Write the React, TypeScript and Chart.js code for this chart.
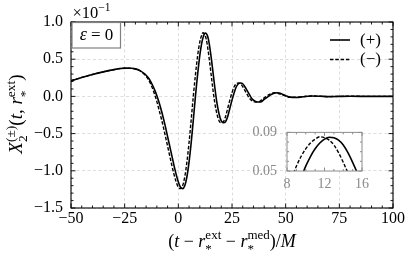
import React, { useEffect, useRef } from "react";
import { Chart, registerables } from "chart.js";

Chart.register(...registerables);

const FONT = '"Liberation Serif", "DejaVu Serif", serif';

// time axis (t - r_ext - r_med)/M
const timeAxis = [
  -50, -45, -40, -35, -30, -27, -24, -22, -20, -18, -16, -15, -14, -13, -12,
  -11, -10, -9, -8, -7, -6, -5, -4, -3, -2, -1, 0, 1, 2, 3, 4, 5, 6, 7, 8,
  8.5, 9, 9.5, 10, 10.5, 11, 11.5, 12, 12.5, 13, 13.5, 14, 14.5, 15, 15.5,
  16, 17, 18, 19, 20, 21, 22, 23, 24, 25, 26, 27, 28, 29, 30, 31, 32, 33, 34, 35, 36, 37, 38, 39, 40, 41, 42, 43, 44, 45, 46, 47, 48,
  50, 52, 55, 58, 62, 66, 70, 75, 80, 90, 100,
];

// X_2^(+) in units of 1e-1
const plusMode = [
  0.21, 0.255, 0.295, 0.33, 0.36, 0.375, 0.38, 0.378, 0.37, 0.35, 0.31, 0.285, 0.25, 0.205, 0.15,
  0.085, 0.01, -0.08, -0.18, -0.29, -0.41, -0.54, -0.67, -0.8, -0.93, -1.05, -1.15, -1.22, -1.24, -1.2, -1.08, -0.88, -0.62, -0.31, 0.01,
  0.16, 0.3, 0.43, 0.55, 0.65, 0.73, 0.79, 0.83, 0.85, 0.845, 0.82, 0.77, 0.69, 0.59, 0.48,
  0.36, 0.12, -0.09, -0.24, -0.33, -0.355, -0.34, -0.27, -0.16, -0.05, 0.05, 0.13, 0.17, 0.18, 0.17, 0.13, 0.08, 0.03, -0.02, -0.05, -0.07, -0.075, -0.075, -0.065, -0.04, -0.02, 0.0, 0.02, 0.035, 0.045, 0.05, 0.045, 0.035,
  0.01, -0.01, -0.015, -0.005, 0.005, 0.003, -0.003, 0.0, 0.002, 0.0, 0.0,
];

// X_2^(-) in units of 1e-1
const minusMode = [
  0.21, 0.255, 0.295, 0.33, 0.36, 0.375, 0.38, 0.377, 0.368, 0.345, 0.3, 0.27, 0.228, 0.173, 0.105,
  0.025, -0.07, -0.18, -0.29, -0.41, -0.54, -0.67, -0.8, -0.93, -1.05, -1.15, -1.22, -1.24, -1.2, -1.08, -0.88, -0.62, -0.31, 0.01, 0.3,
  0.43, 0.55, 0.65, 0.73, 0.79, 0.83, 0.855, 0.845, 0.82, 0.77, 0.69, 0.59, 0.48, 0.36, 0.24,
  0.12, -0.09, -0.24, -0.33, -0.355, -0.34, -0.27, -0.16, -0.05, 0.05, 0.13, 0.17, 0.18, 0.17, 0.13, 0.08, 0.03, -0.02, -0.05, -0.07, -0.075, -0.075, -0.065, -0.04, -0.02, 0.0, 0.02, 0.035, 0.045, 0.05, 0.045, 0.035, 0.025,
  0.005, -0.012, -0.012, -0.003, 0.005, 0.002, -0.003, 0.0, 0.002, 0.0, 0.0,
];

const xTicks = [-50, -25, 0, 25, 50, 75, 100];
const yTicks = [-1.5, -1.0, -0.5, 0.0, 0.5, 1.0];
const insetXTicks = [8, 12, 16];
const insetYTicks = [0.05, 0.09];
const insetRangeX = [8, 16];
const insetRangeY = [0.05, 0.09];
const legendLabels = ["(+)", "(\u2212)"];
const INSET_SCALE = 0.1;

type Seg = { t: string; s: number; it?: boolean; dy?: number; over?: boolean };

const fontOf = (s: number, it?: boolean) => `${it ? "italic " : ""}${s}px ${FONT}`;

function drawRich(ctx: CanvasRenderingContext2D, segs: Seg[], x0: number, baseline: number, align: "center" | "left") {
  let x = 0;
  let prevStart = 0;
  let prevW = 0;
  const pos: number[] = [];
  for (const sg of segs) {
    ctx.font = fontOf(sg.s, sg.it);
    const w = ctx.measureText(sg.t).width;
    if (sg.over) {
      pos.push(prevStart);
      prevW = Math.max(prevW, w);
      x = prevStart + prevW;
    } else {
      pos.push(x);
      prevStart = x;
      prevW = w;
      x += w;
    }
  }
  const start = align === "center" ? x0 - x / 2 : x0;
  ctx.textAlign = "left";
  ctx.textBaseline = "alphabetic";
  segs.forEach((sg, i) => {
    ctx.font = fontOf(sg.s, sg.it);
    ctx.fillText(sg.t, start + pos[i], baseline + (sg.dy || 0));
  });
}

const minus = (s: string) => s.replace("-", "\u2212");

const mainDecor = {
  id: "mainDecor",
  afterDraw(chart: any) {
    const ctx: CanvasRenderingContext2D = chart.ctx;
    const { left, right, top, bottom } = chart.chartArea;
    const xs = chart.scales.x;
    const ys = chart.scales.y;
    ctx.save();
    ctx.strokeStyle = "#000";
    ctx.lineWidth = 1.1;
    ctx.setLineDash([]);
    ctx.strokeRect(left, top, right - left, bottom - top);
    ctx.lineWidth = 0.9;
    ctx.beginPath();
    for (let v = -50; v <= 100; v += 5) {
      const p = xs.getPixelForValue(v);
      const len = v % 25 === 0 ? 4.5 : 2.5;
      ctx.moveTo(p, bottom);
      ctx.lineTo(p, bottom - len);
      ctx.moveTo(p, top);
      ctx.lineTo(p, top + len);
    }
    for (let k = -15; k <= 10; k++) {
      const p = ys.getPixelForValue(k / 10);
      const len = k % 5 === 0 ? 4.5 : 2.5;
      ctx.moveTo(left, p);
      ctx.lineTo(left + len, p);
      ctx.moveTo(right, p);
      ctx.lineTo(right - len, p);
    }
    ctx.stroke();

    // epsilon box
    ctx.fillStyle = "#fff";
    ctx.fillRect(72, 22, 49, 26);
    ctx.strokeStyle = "#808080";
    ctx.lineWidth = 1.2;
    ctx.strokeRect(72, 22.5, 48.5, 25.5);
    ctx.fillStyle = "#000";
    drawRich(ctx, [{ t: "\u03b5", s: 18, it: true }, { t: " = 0", s: 17 }], 96.5, 39.5, "center");

    // exponent
    drawRich(ctx, [{ t: "\u00d710", s: 16.5 }, { t: "\u22121", s: 11.5, dy: -7 }], 72.5, 18, "left");

    // legend
    const ds = chart.data.datasets;
    const rows = [40, 59.5];
    rows.forEach((yy, i) => {
      ctx.strokeStyle = ds[i].borderColor;
      ctx.lineWidth = ds[i].borderWidth;
      ctx.setLineDash(ds[i].borderDash || []);
      ctx.beginPath();
      ctx.moveTo(330, yy);
      ctx.lineTo(350, yy);
      ctx.stroke();
      ctx.setLineDash([]);
      ctx.fillStyle = "#000";
      ctx.font = fontOf(17);
      ctx.textAlign = "left";
      ctx.textBaseline = "alphabetic";
      ctx.fillText(legendLabels[i], 360, yy + 4.5);
    });

    // x title
    ctx.fillStyle = "#000";
    drawRich(
      ctx,
      [
        { t: "(", s: 18 },
        { t: "t", s: 18, it: true },
        { t: " \u2212 ", s: 18 },
        { t: "r", s: 18, it: true },
        { t: "ext", s: 13, dy: -7.5 },
        { t: "*", s: 13, dy: 6.5, over: true },
        { t: " \u2212 ", s: 18 },
        { t: "r", s: 18, it: true },
        { t: "med", s: 13, dy: -7.5 },
        { t: "*", s: 13, dy: 6.5, over: true },
        { t: ")/", s: 18 },
        { t: "M", s: 18, it: true },
      ],
      (left + right) / 2,
      246.5,
      "center"
    );

    // y title
    ctx.translate(22, (top + bottom) / 2 - 1);
    ctx.rotate(-Math.PI / 2);
    drawRich(
      ctx,
      [
        { t: "X", s: 19, it: true },
        { t: "(\u00b1)", s: 13.5, dy: -7.5 },
        { t: "2", s: 13.5, dy: 4.5, over: true },
        { t: "(", s: 19 },
        { t: "t", s: 19, it: true },
        { t: ", ", s: 19 },
        { t: "r", s: 19, it: true },
        { t: "ext", s: 13.5, dy: -7.5 },
        { t: "*", s: 13.5, dy: 6.5, over: true },
        { t: ")", s: 19 },
      ],
      0,
      0,
      "center"
    );
    ctx.restore();
  },
};

const insetDecor = {
  id: "insetDecor",
  beforeDraw(chart: any) {
    const ctx: CanvasRenderingContext2D = chart.ctx;
    const { left, right, top, bottom } = chart.chartArea;
    ctx.save();
    ctx.fillStyle = "#fff";
    ctx.fillRect(left, top, right - left, bottom - top);
    ctx.restore();
  },
  afterDraw(chart: any) {
    const ctx: CanvasRenderingContext2D = chart.ctx;
    const { left, right, top, bottom } = chart.chartArea;
    const xs = chart.scales.x;
    const ys = chart.scales.y;
    ctx.save();
    ctx.strokeStyle = "#8c8c8c";
    ctx.lineWidth = 1;
    ctx.strokeRect(left, top, right - left, bottom - top);
    ctx.beginPath();
    for (let v = 8; v <= 16; v += 1) {
      const p = xs.getPixelForValue(v);
      const len = v % 4 === 0 ? 3.5 : 2;
      ctx.moveTo(p, bottom);
      ctx.lineTo(p, bottom - len);
      ctx.moveTo(p, top);
      ctx.lineTo(p, top + len);
    }
    for (let k = 5; k <= 9; k++) {
      const p = ys.getPixelForValue(k / 100);
      const len = k === 5 || k === 9 ? 3.5 : 2;
      ctx.moveTo(left, p);
      ctx.lineTo(left + len, p);
      ctx.moveTo(right, p);
      ctx.lineTo(right - len, p);
    }
    ctx.stroke();
    ctx.restore();
  },
};

export default function App() {
  const mainRef = useRef<HTMLCanvasElement>(null);
  const insetRef = useRef<HTMLCanvasElement>(null);

  useEffect(() => {
    const mk = (ys: number[], scale: number) => timeAxis.map((x, i) => ({ x, y: ys[i] * scale }));
    const dsets = (scale: number) => [
      {
        label: legendLabels[0],
        data: mk(plusMode, scale),
        borderColor: "#000",
        borderWidth: 1.6,
        pointRadius: 0,
        cubicInterpolationMode: "monotone" as const,
        fill: false,
        clip: 0,
      },
      {
        label: legendLabels[1],
        data: mk(minusMode, scale),
        borderColor: "#000",
        borderWidth: 1.4,
        borderDash: [3.5, 1.8],
        pointRadius: 0,
        cubicInterpolationMode: "monotone" as const,
        fill: false,
        clip: 0,
      },
    ];

    const main = new Chart(mainRef.current!, {
      type: "line",
      data: { datasets: dsets(1) as any },
      options: {
        responsive: false,
        animation: false,
        events: [],
        layout: { padding: { left: 0, right: 18, top: 22, bottom: 0 } },
        plugins: { legend: { display: false }, tooltip: { enabled: false } },
        scales: {
          x: {
            type: "linear",
            min: -50,
            max: 100,
            afterBuildTicks: (s: any) => {
              s.ticks = xTicks.map((v) => ({ value: v }));
            },
            afterFit: (s: any) => {
              s.height = 52;
            },
            grid: { color: "#d4d4d4", lineWidth: 0.8, drawTicks: false },
            border: { display: false, dash: [3, 2.5] },
            ticks: {
              padding: 1,
              color: "#000",
              autoSkip: false,
              maxRotation: 0,
              font: { family: FONT, size: 16 },
              callback: (v: any) => minus(String(v)),
            },
          },
          y: {
            type: "linear",
            min: -1.5,
            max: 1.0,
            afterBuildTicks: (s: any) => {
              s.ticks = yTicks.map((v) => ({ value: v }));
            },
            afterFit: (s: any) => {
              s.width = 71;
            },
            grid: { color: "#d4d4d4", lineWidth: 0.8, drawTicks: false },
            border: { display: false, dash: [3, 2.5] },
            ticks: {
              padding: 8,
              color: "#000",
              autoSkip: false,
              font: { family: FONT, size: 16 },
              callback: (v: any) => minus(Number(v).toFixed(1)),
            },
          },
        },
      },
      plugins: [mainDecor],
    });

    const inset = new Chart(insetRef.current!, {
      type: "line",
      data: { datasets: dsets(INSET_SCALE) as any },
      options: {
        responsive: false,
        animation: false,
        events: [],
        layout: { padding: { left: 0, right: 9, top: 9, bottom: 0 } },
        plugins: { legend: { display: false }, tooltip: { enabled: false } },
        scales: {
          x: {
            type: "linear",
            min: insetRangeX[0],
            max: insetRangeX[1],
            afterBuildTicks: (s: any) => {
              s.ticks = insetXTicks.map((v) => ({ value: v }));
            },
            afterFit: (s: any) => {
              s.height = 21;
            },
            grid: { display: false, drawTicks: false },
            border: { display: false },
            ticks: {
              padding: 5,
              color: "#8a8a8a",
              autoSkip: false,
              maxRotation: 0,
              font: { family: FONT, size: 14 },
              callback: (v: any) => String(v),
            },
          },
          y: {
            type: "linear",
            min: insetRangeY[0],
            max: insetRangeY[1],
            afterBuildTicks: (s: any) => {
              s.ticks = insetYTicks.map((v) => ({ value: v }));
            },
            afterFit: (s: any) => {
              s.width = 41;
            },
            grid: { display: false, drawTicks: false },
            border: { display: false },
            ticks: {
              padding: 10,
              color: "#8a8a8a",
              autoSkip: false,
              font: { family: FONT, size: 14 },
              callback: (v: any) => Number(v).toFixed(2),
            },
          },
        },
      },
      plugins: [insetDecor],
    });

    return () => {
      main.destroy();
      inset.destroy();
    };
  }, []);

  return (
    <div style={{ position: "fixed", left: 0, top: 0, width: 411, height: 260, background: "#fff" }}>
      <canvas ref={mainRef} width={411} height={260} style={{ position: "absolute", left: 0, top: 0, width: 411, height: 260 }} />
      <canvas ref={insetRef} width={128} height={78} style={{ position: "absolute", left: 246, top: 114, width: 128, height: 78 }} />
    </div>
  );
}
